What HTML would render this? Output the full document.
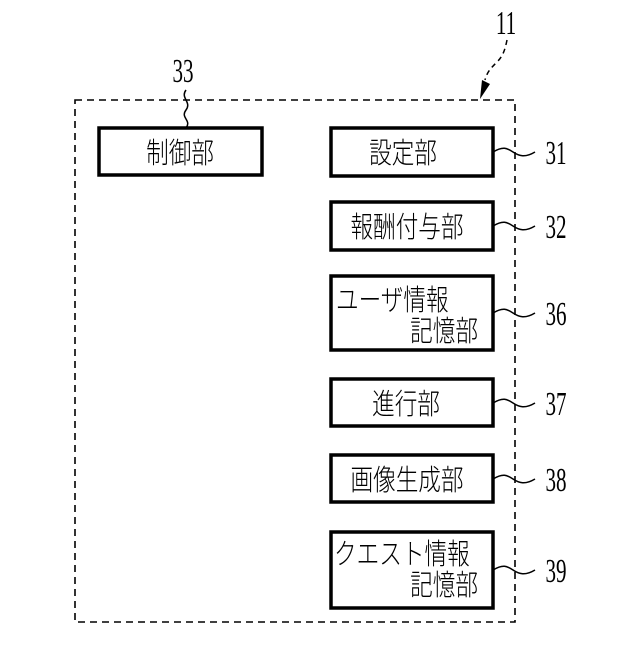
<!DOCTYPE html>
<html><head><meta charset="utf-8"><style>
body{margin:0;background:#fff}
</style></head><body>
<svg width="640" height="640" viewBox="0 0 640 640" xmlns="http://www.w3.org/2000/svg" font-family="'Liberation Serif','Noto Serif CJK SC',serif">
<rect x="0" y="0" width="640" height="640" fill="#fff"/>
<rect x="75" y="100" width="440" height="522" fill="none" stroke="#000" stroke-width="1.6" stroke-dasharray="7,5"/>
<g fill="none" stroke="#000" stroke-width="3.5">
<rect x="99" y="128" width="163" height="47"/>
<rect x="331" y="128" width="162" height="48"/>
<rect x="331" y="202" width="162" height="48"/>
<rect x="331" y="276" width="162" height="74"/>
<rect x="331" y="379" width="162" height="47"/>
<rect x="331" y="455" width="162" height="47"/>
<rect x="331" y="532" width="162" height="76"/>
</g>
<g fill="none" stroke="#000" stroke-width="1.5">
<path d="M186 90 c-6 8 6 12 0 20 c-6 8 6 10 0 18"/>
<path d="M493 152 c10 -6 14 -4 20 0 s12 6 22 0"/>
<path d="M493 226 c10 -6 14 -4 20 0 s12 6 22 0"/>
<path d="M493 313 c10 -6 14 -4 20 0 s12 6 22 0"/>
<path d="M493 403 c10 -6 14 -4 20 0 s12 6 22 0"/>
<path d="M493 479 c10 -6 14 -4 20 0 s12 6 22 0"/>
<path d="M493 570 c10 -6 14 -4 20 0 s12 6 22 0"/>
<path d="M507 40 c-2 10 -4 16 -10 22 s-10 10 -12 18" stroke-dasharray="5,4"/>
</g>
<polygon points="480,99 482,80 490,84" fill="#000"/>
<g font-size="34" fill="#000">
<text transform="translate(506,34) scale(0.62,1)" text-anchor="middle">11</text>
<text transform="translate(183,82) scale(0.62,1)" text-anchor="middle">33</text>
<text transform="translate(556,164) scale(0.62,1)" text-anchor="middle">31</text>
<text transform="translate(556,238) scale(0.62,1)" text-anchor="middle">32</text>
<text transform="translate(556,325) scale(0.62,1)" text-anchor="middle">36</text>
<text transform="translate(556,415) scale(0.62,1)" text-anchor="middle">37</text>
<text transform="translate(556,491) scale(0.62,1)" text-anchor="middle">38</text>
<text transform="translate(556,582) scale(0.62,1)" text-anchor="middle">39</text>
</g>
<g font-size="29" fill="#000" font-family="'Noto Sans CJK JP',sans-serif" font-weight="300">
<text transform="translate(180,163) scale(0.78,1)" text-anchor="middle">制御部</text>
<text transform="translate(403,163) scale(0.78,1)" text-anchor="middle">設定部</text>
<text transform="translate(407,237) scale(0.78,1)" text-anchor="middle">報酬付与部</text>
<text transform="translate(336,310) scale(0.78,1)">ユーザ情報</text>
<text transform="translate(478,341) scale(0.78,1)" text-anchor="end">記憶部</text>
<text transform="translate(406,414) scale(0.78,1)" text-anchor="middle">進行部</text>
<text transform="translate(407,490) scale(0.78,1)" text-anchor="middle">画像生成部</text>
<text transform="translate(334,564) scale(0.78,1)">クエスト情報</text>
<text transform="translate(478,595) scale(0.78,1)" text-anchor="end">記憶部</text>
</g>
</svg>
</body></html>
